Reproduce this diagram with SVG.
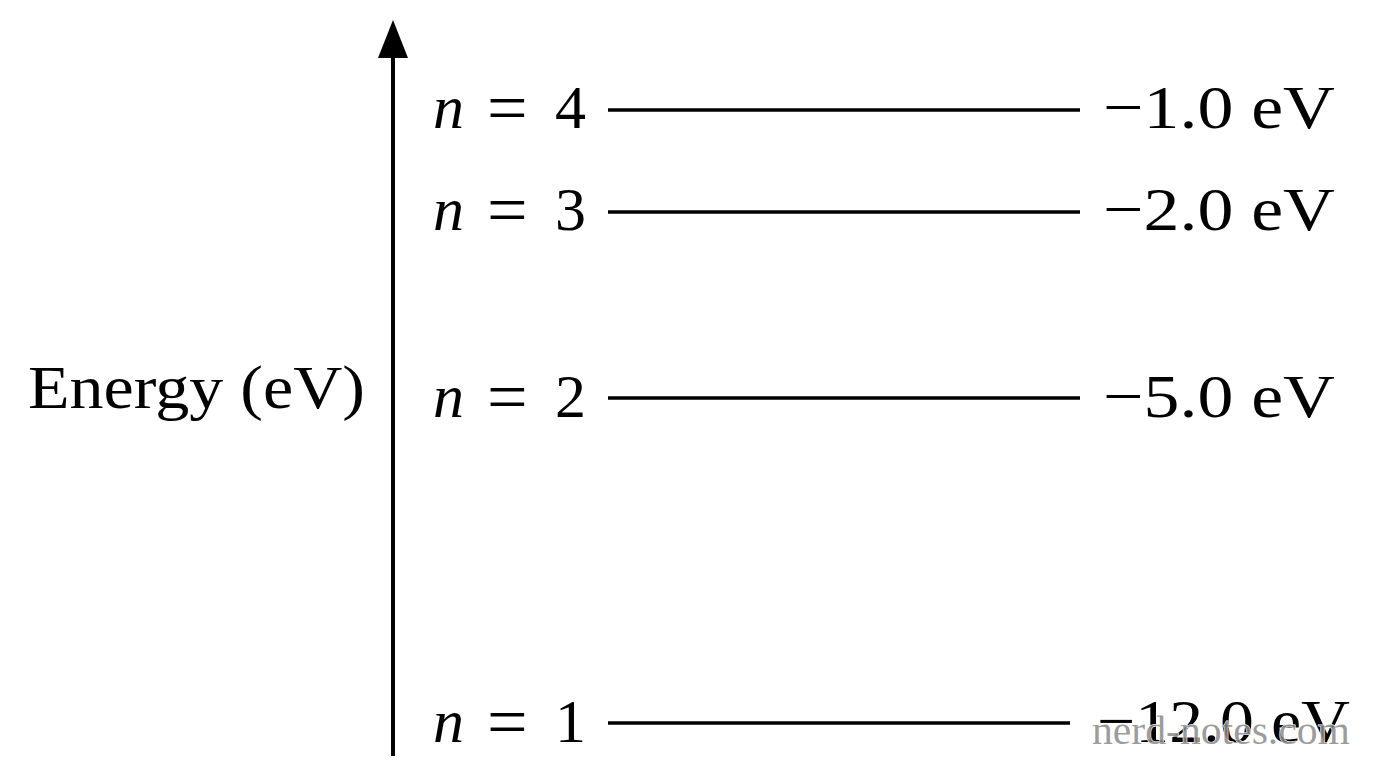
<svg xmlns="http://www.w3.org/2000/svg" width="1376" height="768" viewBox="0 0 1376 768">
<style>
.t{font-family:"Liberation Serif","DejaVu Serif",serif;font-size:62px;fill:#000}
.i{font-style:italic}
.eq{font-size:72px}
.lvl{stroke:#000;stroke-width:3.4;fill:none}
.wm{font-family:"Liberation Serif","DejaVu Serif",serif;font-size:40px;fill:#8a8a8a;fill-opacity:0.85;stroke:#fff;stroke-width:1;paint-order:stroke}
</style>
<rect width="1376" height="768" fill="#fff"/>
<g id="connectors">
<line x1="393" y1="756" x2="393" y2="55" stroke="#000" stroke-width="4"/>
<path d="M393,20 L378,58 L408,58 Z" fill="#000"/>
</g>
<g id="axis-label"><text class="t" x="28" y="408" textLength="337" lengthAdjust="spacingAndGlyphs">Energy (eV)</text></g>
<g id="level4">
<line class="lvl" x1="608" y1="110" x2="1080" y2="110"/>
<text class="t" x="433" y="128"><tspan class="i">n</tspan><tspan class="eq" x="487" y="132">=</tspan><tspan x="555" y="128">4</tspan></text>
<text class="t" x="1103" y="128" textLength="232" lengthAdjust="spacingAndGlyphs">−1.0 eV</text>
</g>
<g id="level3">
<line class="lvl" x1="608" y1="212" x2="1080" y2="212"/>
<text class="t" x="433" y="230"><tspan class="i">n</tspan><tspan class="eq" x="487" y="234">=</tspan><tspan x="555" y="230">3</tspan></text>
<text class="t" x="1103" y="230" textLength="232" lengthAdjust="spacingAndGlyphs">−2.0 eV</text>
</g>
<g id="level2">
<line class="lvl" x1="608" y1="398" x2="1080" y2="398"/>
<text class="t" x="433" y="417"><tspan class="i">n</tspan><tspan class="eq" x="487" y="421">=</tspan><tspan x="555" y="417">2</tspan></text>
<text class="t" x="1103" y="417" textLength="232" lengthAdjust="spacingAndGlyphs">−5.0 eV</text>
</g>
<g id="level1">
<line class="lvl" x1="608" y1="723" x2="1070" y2="723"/>
<text class="t" x="433" y="742"><tspan class="i">n</tspan><tspan class="eq" x="487" y="746">=</tspan><tspan x="555" y="742">1</tspan></text>
<text class="t" x="1097" y="742" textLength="253" lengthAdjust="spacingAndGlyphs">−12.0 eV</text>
</g>
<g id="watermark"><text class="wm" x="1092" y="744" textLength="258" lengthAdjust="spacingAndGlyphs">nerd-notes.com</text></g>
</svg>
